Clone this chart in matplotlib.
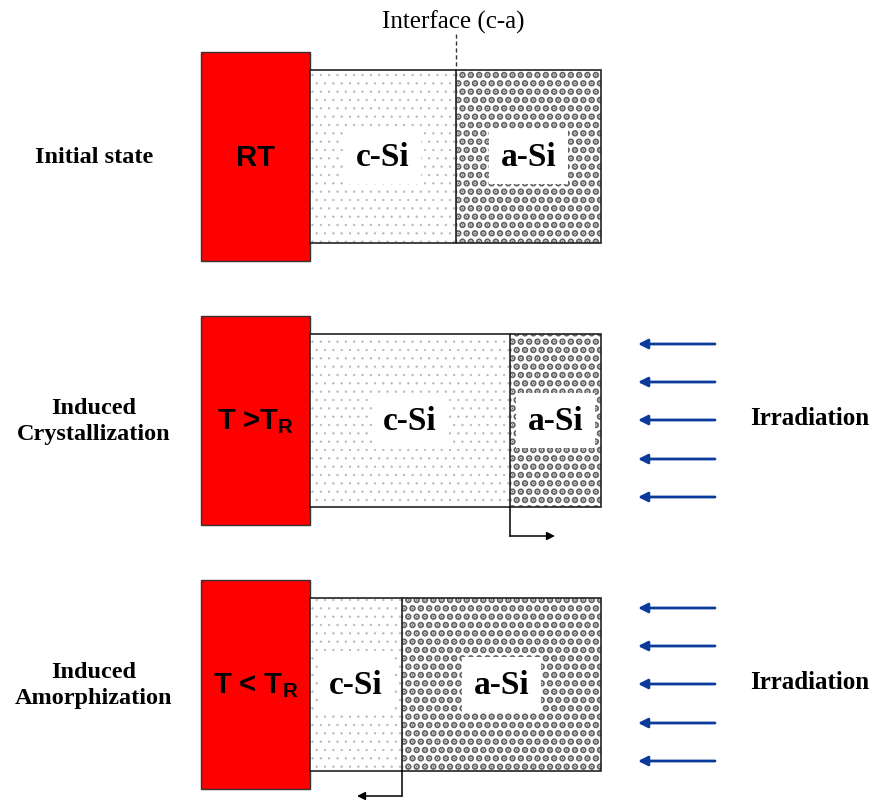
import matplotlib
matplotlib.use("Agg")
import matplotlib.pyplot as plt
from matplotlib.patches import Rectangle

# panel data (pixel space of the 875x803 picture)
row_titles = ["Initial state", "Induced\nCrystallization", "Induced\nAmorphization"]
heater_labels = ["RT", r"T >T$_\mathregular{R}$", r"T < T$_\mathregular{R}$"]
row_tops = [53, 317, 581]
interface_x = [456, 510, 402]
front_dir = [0, 1, -1]          # interface moves: none, right, left
irradiated = [False, True, True]

heater_left, heater_right = 201, 310
slab_right = 601
heater_h, slab_off, slab_h = 209, 18, 173
arrow_offsets = [28, 66, 104, 143, 181]

fig = plt.figure(figsize=(8.75, 8.03), dpi=100)
ax = fig.add_axes([0, 0, 1, 1])
ax.set_xlim(0, 875)
ax.set_ylim(803, 0)
ax.axis("off")

serif = "Liberation Serif"
sans = "Liberation Sans"


def textured(x0, y0, w, h, hatch, color, hlw):
    with plt.rc_context({"hatch.linewidth": hlw}):
        p = Rectangle((x0, y0), w, h, facecolor="white", edgecolor=color,
                      hatch=hatch, lw=0)
    if hasattr(p, "set_hatch_linewidth"):
        p.set_hatch_linewidth(hlw)
    ax.add_patch(p)


for i in range(3):
    top = row_tops[i]
    st, sb = top + slab_off, top + slab_off + slab_h
    mid = (st + sb) / 2
    ix = interface_x[i]

    # heater block
    ax.add_patch(Rectangle((heater_left, top), heater_right - heater_left, heater_h,
                           facecolor="#ff0000", edgecolor="#333333", lw=1))
    ax.text((heater_left + heater_right) / 2, mid, heater_labels[i], family=sans,
            weight="bold", fontsize=21, ha="center", va="center")

    # c-Si and a-Si layers
    textured(heater_right, st, ix - heater_right, slab_h, "..", "#b4b4b4", 0.4)
    textured(ix, st, slab_right - ix, slab_h, "..", "#626262", 3.4)
    ax.add_patch(Rectangle((heater_right, st), slab_right - heater_right, slab_h,
                           facecolor="none", edgecolor="#222222", lw=1.2))
    ax.plot([ix, ix], [st, sb], color="#222222", lw=1.2)

    box = dict(facecolor="white", edgecolor="none", boxstyle="square,pad=0.35")
    ax.text((heater_right + ix) / 2, mid, "c-Si", family=serif, weight="bold",
            fontsize=24, ha="center", va="center", bbox=box)
    ax.text((ix + slab_right) / 2, mid, "a-Si", family=serif, weight="bold",
            fontsize=24, ha="center", va="center", bbox=box)

    ax.text(94, mid, row_titles[i], family=serif, weight="bold", fontsize=17.5,
            ha="center", va="center", linespacing=1.3)

    if front_dir[i] == 0:
        ax.plot([ix, ix], [35, st], color="#333333", lw=1, ls=(0, (3, 2)))
        ax.text(ix - 3, 22, "Interface (c-a)", family=serif, fontsize=18,
                ha="center", va="center")
    else:
        y_end = sb + 29 if i == 1 else sb + 25
        ax.plot([ix, ix], [sb, y_end], color="black", lw=1.1)
        ax.annotate("", xy=(ix + 45 * front_dir[i], y_end), xytext=(ix, y_end),
                    arrowprops=dict(arrowstyle="-|>", color="black", lw=1.1,
                                    mutation_scale=12, shrinkA=0, shrinkB=0))

    if irradiated[i]:
        for off in arrow_offsets:
            y = top + off
            ax.annotate("", xy=(638, y), xytext=(715, y),
                        arrowprops=dict(arrowstyle="-|>", color="#0a3a9a", lw=2,
                                        mutation_scale=14, shrinkA=0, shrinkB=0))
        ax.text(810, mid - 3, "Irradiation", family=serif, weight="bold",
                fontsize=18, ha="center", va="center")

fig.savefig("out.png", dpi=100)
